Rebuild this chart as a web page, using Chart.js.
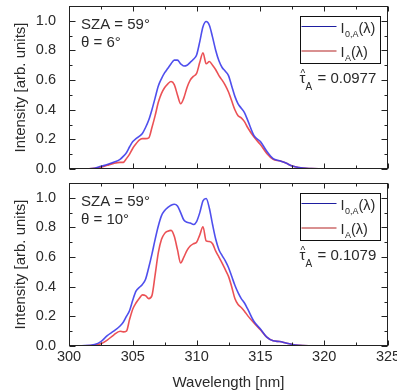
<!DOCTYPE html>
<html>
<head>
<meta charset="utf-8">
<script src="https://cdn.jsdelivr.net/npm/chart.js@4.4.1/dist/chart.umd.min.js"></script>
<style>
  body { margin: 0; background: #fff; }
  #wrap { position: relative; width: 397px; height: 390px; }
  canvas { position: absolute; left: 0; }
  #top { top: 0; }
  #bottom { top: 176px; }
</style>
</head>
<body>
<div id="wrap">
  <canvas id="top" width="397" height="176"></canvas>
  <canvas id="bottom" width="397" height="214"></canvas>
</div>
<script>
// wavelength grid [nm]
const wavelength = [
  300, 301, 302, 302.5, 303, 303.5, 304, 304.25, 304.5, 304.75,
  305, 305.25, 305.5, 305.75, 306, 306.25, 306.5, 306.75, 307, 307.25,
  307.5, 307.75, 308, 308.25, 308.5, 308.75, 309, 309.25, 309.5, 309.75,
  310, 310.25, 310.5, 310.75, 311, 311.25, 311.5, 311.75, 312, 312.25,
  312.5, 312.75, 313, 313.25, 313.5, 313.75, 314, 314.5, 315, 315.5,
  316, 316.5, 317, 317.5, 318, 319, 320, 322, 325
];

// theta = 6 deg
const i0Theta6 = [
  0, 0, 0.005, 0.018, 0.03, 0.045, 0.065, 0.085, 0.11, 0.15,
  0.185, 0.205, 0.22, 0.24, 0.28, 0.33, 0.40, 0.48, 0.56, 0.61,
  0.65, 0.68, 0.71, 0.735, 0.735, 0.71, 0.695, 0.70, 0.72, 0.74,
  0.77, 0.86, 0.96, 0.995, 0.97, 0.89, 0.80, 0.73, 0.685, 0.66,
  0.63, 0.56, 0.49, 0.44, 0.41, 0.38, 0.33, 0.225, 0.185, 0.12,
  0.07, 0.055, 0.04, 0.02, 0.01, 0.003, 0, 0, 0
];
const iTheta6 = [
  0, 0, 0.004, 0.012, 0.025, 0.038, 0.045, 0.045, 0.07, 0.10,
  0.14, 0.17, 0.195, 0.205, 0.205, 0.21, 0.28, 0.36, 0.45, 0.51,
  0.55, 0.575, 0.59, 0.57, 0.50, 0.44, 0.48, 0.55, 0.60, 0.625,
  0.645, 0.72, 0.785, 0.71, 0.725, 0.70, 0.67, 0.63, 0.60, 0.565,
  0.52, 0.46, 0.40, 0.36, 0.345, 0.32, 0.28, 0.215, 0.165, 0.105,
  0.065, 0.055, 0.04, 0.02, 0.01, 0.003, 0, 0, 0
];

// theta = 10 deg
const i0Theta10 = [
  0, 0.002, 0.01, 0.03, 0.07, 0.10, 0.135, 0.16, 0.20, 0.24,
  0.31, 0.37, 0.395, 0.415, 0.45, 0.53, 0.62, 0.72, 0.81, 0.88,
  0.915, 0.935, 0.95, 0.957, 0.945, 0.90, 0.85, 0.835, 0.83, 0.82,
  0.84, 0.90, 0.98, 0.995, 0.93, 0.82, 0.72, 0.65, 0.61, 0.575,
  0.53, 0.47, 0.41, 0.36, 0.32, 0.29, 0.25, 0.165, 0.115, 0.06,
  0.035, 0.03, 0.02, 0.01, 0.004, 0.001, 0, 0, 0
];
const iTheta10 = [
  0, 0.001, 0.005, 0.015, 0.04, 0.074, 0.10, 0.095, 0.10, 0.18,
  0.25, 0.29, 0.32, 0.345, 0.34, 0.32, 0.34, 0.48, 0.63, 0.72,
  0.76, 0.775, 0.78, 0.74, 0.65, 0.56, 0.60, 0.645, 0.675, 0.69,
  0.70, 0.75, 0.805, 0.71, 0.705, 0.69, 0.64, 0.60, 0.56, 0.515,
  0.47, 0.40, 0.32, 0.28, 0.26, 0.235, 0.205, 0.155, 0.11, 0.06,
  0.035, 0.03, 0.02, 0.01, 0.004, 0.001, 0, 0, 0
];

const yTicks = [0, 0.2, 0.4, 0.6, 0.8, 1.0];
const panelTexts = [
  { sza: 'SZA = 59°', theta: 'θ = 6°', tau: '= 0.0977' },
  { sza: 'SZA = 59°', theta: 'θ = 10°', tau: '= 0.1079' }
];

const FONT = "'Liberation Sans', Arial, sans-serif";
const TXT = '#2a2a2a';
Chart.defaults.font.family = FONT;
Chart.defaults.color = TXT;

function pts(ys) {
  return wavelength.map((w, i) => ({ x: w, y: ys[i] }));
}

function drawSub(ctx, x, y, main, sub, tail) {
  ctx.font = '14.5px ' + FONT;
  ctx.fillText(main, x, y);
  x += ctx.measureText(main).width + 0.5;
  ctx.font = '9px ' + FONT;
  ctx.fillText(sub, x, y + 4);
  x += ctx.measureText(sub).width;
  ctx.font = '14.5px ' + FONT;
  ctx.fillText(tail, x, y);
}

// box, inward ticks, legend and labels
const framePlugin = {
  id: 'frame',
  afterDatasetsDraw(chart, args, opts) {
    const { ctx, chartArea: a, scales: { x, y } } = chart;
    const L = a.left + 0.5, R = a.right - 0.5, T = a.top + 0.5, B = a.bottom - 0.5;
    ctx.save();
    ctx.strokeStyle = '#222';
    ctx.lineWidth = 1;
    ctx.beginPath();
    const xm = x.ticks.map(t => t.value);
    const ym = y.ticks.map(t => t.value);
    const xs = [];
    xm.forEach((v, i) => { xs.push([v, 5]); if (i < xm.length - 1) xs.push([(v + xm[i + 1]) / 2, 3]); });
    const ys = [];
    ym.forEach(v => { ys.push([v, 6]); ys.push([v + 0.1, 3]); });
    xs.forEach(([v, len]) => {
      const px = Math.round(x.getPixelForValue(v)) + 0.5;
      ctx.moveTo(px, B); ctx.lineTo(px, B - len);
      ctx.moveTo(px, T); ctx.lineTo(px, T + len);
    });
    ys.forEach(([v, len]) => {
      if (v > y.max - 1e-6) return;
      const py = Math.round(y.getPixelForValue(v)) + 0.5;
      ctx.moveTo(L, py); ctx.lineTo(L + len, py);
      ctx.moveTo(R, py); ctx.lineTo(R - len, py);
    });
    ctx.stroke();
    ctx.strokeRect(L, T, R - L, B - T);

    // annotations
    ctx.fillStyle = TXT;
    ctx.textBaseline = 'alphabetic';
    ctx.font = '15px ' + FONT;
    ctx.fillText(opts.sza, a.left + 12, a.top + 22.5);
    ctx.fillText(opts.theta, a.left + 12, a.top + 41);

    // legend box
    const bl = Math.round(a.right - 88) + 0.5, bt = Math.round(a.top + 10) + 0.5;
    ctx.strokeStyle = '#111';
    ctx.strokeRect(bl, bt, 80, 47);
    ctx.lineWidth = 1.2;
    ctx.strokeStyle = '#1e1ea0';
    ctx.beginPath(); ctx.moveTo(bl + 1, bt + 10); ctx.lineTo(bl + 36, bt + 10); ctx.stroke();
    ctx.strokeStyle = '#b42222';
    ctx.beginPath(); ctx.moveTo(bl + 1, bt + 34.5); ctx.lineTo(bl + 36, bt + 34.5); ctx.stroke();
    drawSub(ctx, bl + 40, bt + 16, 'I', '0,A', '(λ)');
    drawSub(ctx, bl + 40, bt + 40.5, 'I', 'A', '(λ)');

    // tau hat
    const tb = a.top + 77;
    ctx.font = '15px ' + FONT;
    ctx.fillText('τ', bl - 1, tb);
    ctx.font = '10px ' + FONT;
    ctx.fillText('^', bl, tb - 6);
    ctx.fillText('A', bl + 5, tb + 7);
    ctx.font = '15px ' + FONT;
    ctx.fillText(opts.tau, bl + 17, tb);
    ctx.restore();
  }
};

function makeChart(id, i0, i, texts, showX) {
  return new Chart(document.getElementById(id), {
    type: 'line',
    data: {
      datasets: [
        { label: 'I0,A', data: pts(i0), borderColor: 'rgba(60,60,235,0.9)', borderWidth: 1.6,
          pointRadius: 0, cubicInterpolationMode: 'monotone', fill: false },
        { label: 'IA', data: pts(i), borderColor: 'rgba(232,50,55,0.85)', borderWidth: 1.6,
          pointRadius: 0, cubicInterpolationMode: 'monotone', fill: false }
      ]
    },
    options: {
      responsive: false,
      animation: false,
      layout: { padding: { top: showX ? 7 : 6, right: 9, left: 0, bottom: 0 } },
      plugins: {
        legend: { display: false },
        tooltip: { enabled: false },
        frame: texts
      },
      scales: {
        x: {
          type: 'linear', min: 300, max: 325,
          ticks: { stepSize: 5, display: showX, padding: -6, font: { size: 14.5 } },
          grid: { display: false },
          border: { display: false },
          title: { display: showX, text: 'Wavelength [nm]', font: { size: 15 }, padding: { top: 0, bottom: -2 } },
          afterFit: s => { s.height = showX ? 44 : 7; s.paddingLeft = 0; s.paddingRight = 0; }
        },
        y: {
          min: 0, max: 1.1,
          afterBuildTicks: s => { s.ticks = yTicks.map(v => ({ value: v })); },
          ticks: { padding: 5, font: { size: 14.5 }, callback: v => v.toFixed(1) },
          grid: { display: false },
          border: { display: false },
          title: { display: true, text: 'Intensity [arb. units]', font: { size: 15 }, padding: { top: 12, bottom: 0 } },
          afterFit: s => { s.width = 69; s.paddingTop = 0; s.paddingBottom = 0; }
        }
      }
    },
    plugins: [framePlugin]
  });
}

makeChart('top', i0Theta6, iTheta6, panelTexts[0], false);
makeChart('bottom', i0Theta10, iTheta10, panelTexts[1], true);
</script>
</body>
</html>
